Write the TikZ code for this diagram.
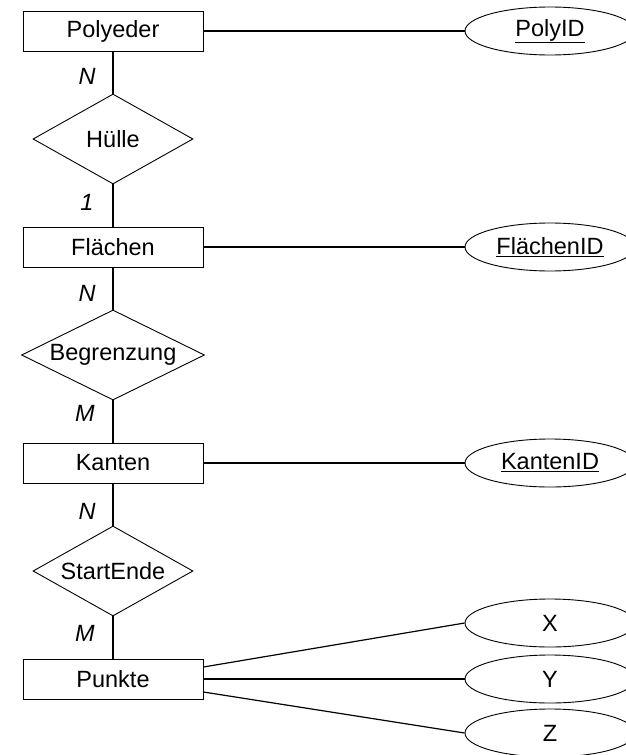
\documentclass[tikz,border=0pt]{standalone}
\usepackage{fontspec}
\setmainfont{Liberation Sans}
\usetikzlibrary{shapes.geometric}
\begin{document}
\begin{tikzpicture}[x=1pt,y=-1pt,
  every node/.style={font=\fontsize{23.5}{27}\selectfont},
  entity/.style={draw,line width=0.9pt,rectangle,minimum width=180pt,minimum height=40pt,inner sep=0pt},
  rel/.style={draw,line width=0.9pt,diamond,shape aspect=2,minimum width=#1,minimum height=90pt,inner sep=0pt},
  attr/.style={draw,line width=0.9pt,ellipse,minimum width=170pt,minimum height=48pt,inner sep=0pt},
  card/.style={font=\fontsize{23.5}{27}\selectfont\itshape,inner sep=0pt},
  conn/.style={line width=1.2pt}]
\useasboundingbox (0,0) rectangle (626,755);
\clip (0,0) rectangle (626,755);
\node[entity] (poly) at (113,31) {Polyeder};
\node[rel=160pt] (huelle) at (113,139) {Hülle};
\node[entity] (flaechen) at (113,247) {Flächen};
\node[rel=183pt] (begr) at (113,355) {Begrenzung};
\node[entity] (kanten) at (113,463) {Kanten};
\node[rel=160pt] (start) at (113,571) {StartEnde};
\node[entity] (punkte) at (113,679) {Punkte};
\node[attr] (polyid) at (550,31) {\underline{PolyID}};
\node[attr] (flid) at (550,247) {\underline{FlächenID}};
\node[attr] (kaid) at (550,463) {\underline{KantenID}};
\node[attr] (ax) at (550,623) {X};
\node[attr] (ay) at (550,679) {Y};
\node[attr] (az) at (550,733) {Z};
\node[card] (c1) at (87,76) {N};
\node[card] (c2) at (87,202) {1};
\node[card] (c3) at (87,293) {N};
\node[card] (c4) at (85,413) {M};
\node[card] (c5) at (87,511) {N};
\node[card] (c6) at (85,633) {M};
\draw[conn] (poly.south) -- (huelle.north);
\draw[conn] (huelle.south) -- (flaechen.north);
\draw[conn] (flaechen.south) -- (begr.north);
\draw[conn] (begr.south) -- (kanten.north);
\draw[conn] (kanten.south) -- (start.north);
\draw[conn] (start.south) -- (punkte.north);
\draw[conn] (poly.east) -- (polyid.west);
\draw[conn] (flaechen.east) -- (flid.west);
\draw[conn] (kanten.east) -- (kaid.west);
\draw[conn] ([yshift=12pt]punkte.east) -- (ax.west);
\draw[conn] (punkte.east) -- (ay.west);
\draw[conn] ([yshift=-13pt]punkte.east) -- (az.west);
\end{tikzpicture}
\end{document}
